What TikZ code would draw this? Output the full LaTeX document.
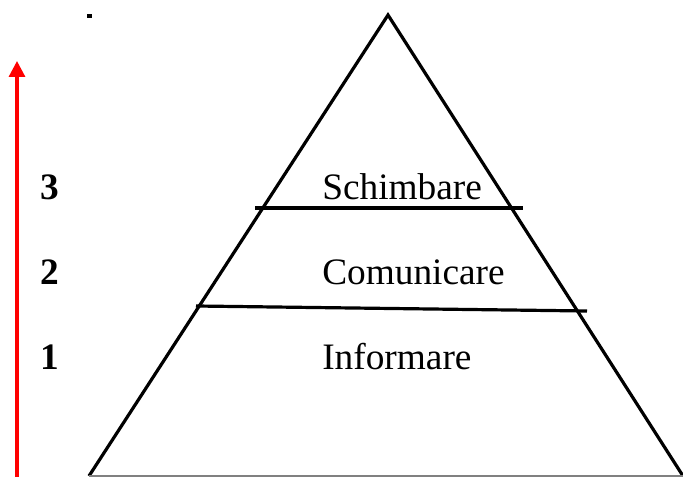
\documentclass[tikz,border=0pt]{standalone}
\usepackage{fontspec}
\setmainfont{Liberation Serif}
\usetikzlibrary{arrows.meta}
\begin{document}
\begin{tikzpicture}[x=0.75pt,y=-0.75pt,
  edge/.style={line width=2.4pt,black},
  level/.style={font=\fontsize{28}{31}\selectfont,anchor=base west,inner sep=0pt},
  rank/.style={font=\fontsize{28}{31}\selectfont\bfseries,anchor=base,inner sep=0pt}]
\useasboundingbox (0,0) rectangle (683,477);
% pyramid corners
\coordinate (apex) at (388,15);
\coordinate (bl) at (89,476);
\coordinate (br) at (683,476);
\draw[edge,line join=miter] (bl) -- (apex) -- (br);
\draw[gray,line width=1pt] (bl) -- (br);
% level dividers
\coordinate (u1) at (255,208);
\coordinate (u2) at (523,208);
\coordinate (d1) at (196,306);
\coordinate (d2) at (587,311);
\draw[edge] (u1) -- (u2);
\draw[edge] (d1) -- (d2);
% level names
\node[level] (lv3) at (322,200) {Schimbare};
\node[level] (lv2) at (322,285) {Comunicare};
\node[level] (lv1) at (322,370) {Informare};
% rank numbers
\node[rank] (r3) at (50,200) {3};
\node[rank] (r2) at (50,285) {2};
\node[rank] (r1) at (50,370) {1};
% small mark
\node[fill=black,minimum width=3.5pt,minimum height=2.5pt,inner sep=0pt] (dot) at (89.5,16) {};
% upward arrow
\coordinate (a0) at (17,477);
\coordinate (a1) at (17,61);
\draw[red,line width=2.4pt,-{Triangle[length=12pt,width=12pt]}] (a0) -- (a1);
\end{tikzpicture}
\end{document}
